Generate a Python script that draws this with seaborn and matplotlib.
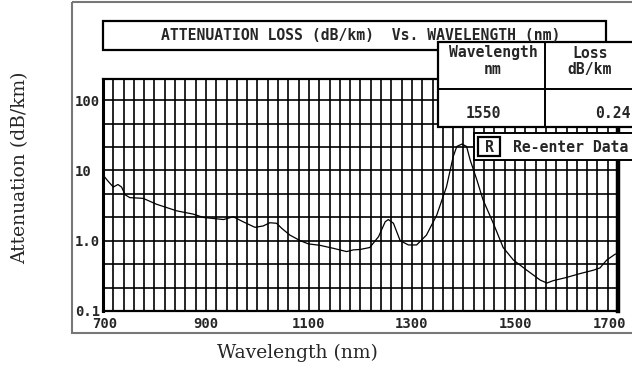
import numpy as np
import pandas as pd
import matplotlib
matplotlib.use("Agg")
import matplotlib.pyplot as plt
from matplotlib.patches import Rectangle
from matplotlib.ticker import FixedLocator, NullFormatter
from matplotlib.transforms import ScaledTranslation
import seaborn as sns

# ---- data ----
wavelength_nm = [700, 710, 720, 729, 736, 743, 752, 778, 804, 843, 875, 895, 934, 953, 972,
                 995, 1011, 1024, 1037, 1047, 1063, 1083, 1099, 1121, 1147, 1173, 1186, 1199,
                 1218, 1235, 1248, 1254, 1264, 1277, 1293, 1309, 1328, 1348, 1367, 1380, 1387,
                 1397, 1406, 1413, 1426, 1438, 1458, 1477, 1497, 1523, 1549, 1562, 1574, 1600,
                 1626, 1652, 1665, 1678, 1694, 1700]
loss_db_km = [8.6, 7.0, 5.8, 6.3, 5.8, 4.5, 4.1, 4.0, 3.3, 2.66, 2.39, 2.14, 2.0, 2.19, 1.86,
              1.55, 1.62, 1.8, 1.77, 1.5, 1.2, 1.0, 0.9, 0.86, 0.78, 0.70, 0.74, 0.75,
              0.80, 1.14, 1.86, 2.0, 1.77, 1.0, 0.87, 0.87, 1.2, 2.31, 5.85, 15.7, 21.9,
              23.7, 21.9, 14.0, 7.3, 3.8, 1.76, 0.80, 0.53, 0.38, 0.275, 0.25, 0.27, 0.30,
              0.34, 0.38, 0.41, 0.53, 0.64, 0.66]
x_ticks = [700, 900, 1100, 1300, 1500, 1700]
x_tick_labels = ["700", "900", "1100", "1300", "1500", "1700"]
y_ticks = [0.1, 1.0, 10, 100]
y_tick_labels = ["0.1", "1.0", "10", "100"]
title_text = "ATTENUATION LOSS (dB/km)  Vs. WAVELENGTH (nm)"
table_headers = [["Wavelength", "nm"], ["Loss", "dB/km"]]
table_values = ["1550", "0.24"]
button_key = "R"
button_text = "Re-enter Data"
x_label = "Wavelength (nm)"
y_label = "Attenuation (dB/km)"

df = pd.DataFrame({"nm": wavelength_nm, "loss": loss_db_km})

sns.set_style("white")
W, H = 632, 370
fig = plt.figure(figsize=(W / 100, H / 100), dpi=100)

mono = "DejaVu Sans Mono"
serif = "DejaVu Serif"

# main axes (pixel box 103..618 x 79..311)
L, R, T, B = 103, 618, 79, 311
ax = fig.add_axes([L / W, 1 - B / H, (R - L) / W, (B - T) / H])
sns.lineplot(data=df, x="nm", y="loss", ax=ax, color="black", linewidth=0.9,
             estimator=None, sort=False)
ax.set_yscale("log")
ax.set_xlim(700, 1700)
ax.set_ylim(0.1, 10 ** 2.30)

# grid: every 20 nm, every 1/3 decade
ax.xaxis.set_minor_locator(FixedLocator(np.arange(700, 1701, 20)))
ax.yaxis.set_minor_locator(FixedLocator([10 ** (k / 3) for k in range(-3, 7)]))
ax.yaxis.set_minor_formatter(NullFormatter())
ax.grid(True, which="both", color="black", linewidth=1.2)
ax.set_axisbelow(True)

ax.set_xticks(x_ticks)
ax.set_xticklabels(x_tick_labels, fontfamily=mono, fontweight="bold", fontsize=10)
ax.set_yticks(y_ticks)
ax.set_yticklabels(y_tick_labels, fontfamily=mono, fontweight="bold", fontsize=10)
ax.tick_params(axis="x", which="major", direction="in", length=8, width=3.2, pad=4)
ax.tick_params(axis="y", which="major", direction="in", length=5, width=2.5, pad=20)
ax.tick_params(which="minor", length=0)
for lab in ax.get_yticklabels():
    lab.set_horizontalalignment("left")
last = ax.get_xticklabels()[-1]
last.set_transform(last.get_transform() + ScaledTranslation(-8 / 100, 0, fig.dpi_scale_trans))
first = ax.get_xticklabels()[0]
first.set_transform(first.get_transform() + ScaledTranslation(2 / 100, 0, fig.dpi_scale_trans))

for side, lw in [("left", 2.2), ("bottom", 1.6), ("top", 1.6), ("right", 3.2)]:
    ax.spines[side].set_visible(True)
    ax.spines[side].set_color("black")
    ax.spines[side].set_linewidth(lw)

ax.set_xlabel(x_label, fontfamily=serif, fontsize=13.5)
ax.set_ylabel(y_label, fontfamily=serif, fontsize=13.5)
ax.xaxis.set_label_coords((297 - L) / (R - L), -(353 - B) / (B - T))
ax.xaxis.label.set_verticalalignment("center")
ax.yaxis.set_label_coords(-(L - 20) / (R - L), (B - 168) / (B - T))
ax.yaxis.label.set_verticalalignment("center")

# overlay in pixel coordinates for the screen decorations
ov = fig.add_axes([0, 0, 1, 1], zorder=10)
ov.set_xlim(0, W)
ov.set_ylim(H, 0)
ov.axis("off")
ov.patch.set_alpha(0)

fs = 10.6
# outer gray frame
ov.add_patch(Rectangle((72, 2), 600, 331, fill=False, edgecolor="#777777", linewidth=1.5))

# title box
ov.add_patch(Rectangle((103, 21), 503, 29, facecolor="white", edgecolor="black", linewidth=1.6))
ov.text(361, 35.5, title_text, ha="center", va="center", fontfamily=mono,
        fontweight="bold", fontsize=fs)

# table box
ov.add_patch(Rectangle((438, 42), 220, 85, facecolor="white", edgecolor="black", linewidth=1.6))
ov.plot([438, 640], [89, 89], color="black", linewidth=1.4)
ov.plot([545, 545], [42, 127], color="black", linewidth=1.4)
ov.text(493, 53, table_headers[0][0], ha="center", va="center", fontfamily=mono,
        fontweight="bold", fontsize=fs)
ov.text(493, 69.5, table_headers[0][1], ha="center", va="center", fontfamily=mono,
        fontweight="bold", fontsize=fs)
ov.text(590, 53, table_headers[1][0], ha="center", va="center", fontfamily=mono,
        fontweight="bold", fontsize=fs)
ov.text(590, 69.5, table_headers[1][1], ha="center", va="center", fontfamily=mono,
        fontweight="bold", fontsize=fs)
ov.text(483, 114, table_values[0], ha="center", va="center", fontfamily=mono,
        fontweight="bold", fontsize=fs)
ov.text(631, 114, table_values[1], ha="right", va="center", fontfamily=mono,
        fontweight="bold", fontsize=fs)

# re-enter button
ov.add_patch(Rectangle((474, 133), 180, 27, facecolor="white", edgecolor="black", linewidth=1.4))
ov.add_patch(Rectangle((478, 137), 22, 19, facecolor="white", edgecolor="black", linewidth=1.6))
ov.text(489, 147, button_key, ha="center", va="center", fontfamily=mono,
        fontweight="bold", fontsize=fs)
ov.text(513, 147, button_text, ha="left", va="center", fontfamily=mono,
        fontweight="bold", fontsize=fs)

fig.savefig("out.png", dpi=100)
